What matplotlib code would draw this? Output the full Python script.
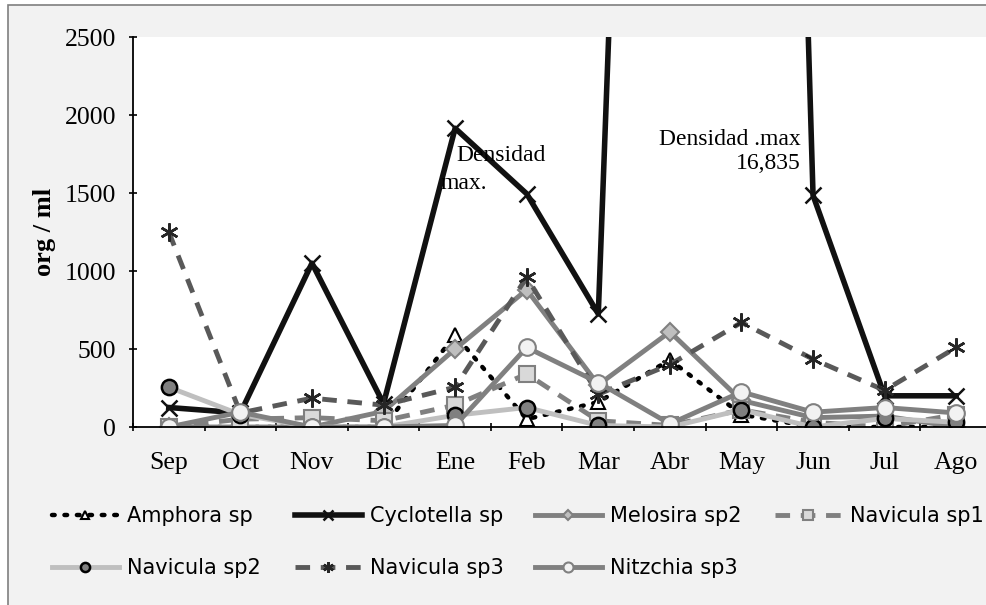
import numpy as np
import matplotlib
matplotlib.use("Agg")
import matplotlib.pyplot as plt
from matplotlib.patches import Rectangle

# meses y densidades (org / ml)
meses = ["Sep", "Oct", "Nov", "Dic", "Ene", "Feb", "Mar", "Abr", "May", "Jun", "Jul", "Ago"]

amphora = [0, 0, 0, 0, 590, 50, 160, 430, 80, 0, 0, 0]
cyclotella = [125, 90, 1050, 150, 1915, 1495, 725, 13000, 16835, 1485, 200, 200]
melosira = [0, 0, 0, 100, 500, 880, 270, 610, 170, 60, 70, 0]
navicula1 = [0, 50, 60, 40, 140, 340, 40, 10, 110, 30, 0, 80]
navicula2 = [255, 80, 0, 0, 75, 125, 10, 0, 110, 0, 55, 30]
navicula3 = [1250, 90, 185, 140, 255, 960, 210, 400, 670, 435, 235, 510]
nitzchia = [0, 95, 0, 0, 10, 510, 285, 20, 225, 95, 125, 90]

W, H = 987, 605
fig = plt.figure(figsize=(W / 100, H / 100), dpi=100, facecolor="white")
fig.patches.append(Rectangle((8 / W, -0.1), 1.1, 1 - 5 / H + 0.1, transform=fig.transFigure,
                             facecolor="#f2f2f2", edgecolor="#7f7f7f", lw=1.2, zorder=-10))

ax = fig.add_axes([133 / W, 1 - 427 / H, (992 - 133) / W, (427 - 37) / H])
ax.set_facecolor("white")

x = np.arange(len(meses))
l_amp, = ax.plot(x, amphora, color="black", ls=(0, (0.6, 2.2)), dash_capstyle="round", lw=3.2,
                 marker="^", ms=10, mfc="white", mec="black", mew=1.5, label="Amphora sp")
l_cyc, = ax.plot(x, cyclotella, color="#111111", lw=4, marker="x", ms=11, mew=1.8, mec="#111111",
                 label="Cyclotella sp")
l_mel, = ax.plot(x, melosira, color="#808080", lw=3.5, marker="D", ms=9, mfc="#bfbfbf",
                 mec="#808080", mew=1.5, label="Melosira sp2")
l_n1, = ax.plot(x, navicula1, color="#808080", lw=3.5, ls=(0, (3, 2.2)), marker="s", ms=11,
                mfc="#d9d9d9", mec="#808080", mew=1.5, label="Navicula sp1")
l_n2, = ax.plot(x, navicula2, color="#bfbfbf", lw=3.5, marker="o", ms=11, mfc="#808080",
                mec="black", mew=1.8, label="Navicula sp2")
l_n3, = ax.plot(x, navicula3, color="#595959", lw=3.5, ls=(0, (3, 2.2)), marker=(6, 2, 0), ms=13,
                mec="#262626", mew=1.8, label="Navicula sp3")
l_nit, = ax.plot(x, nitzchia, color="#808080", lw=3.5, marker="o", ms=12, mfc="#f2f2f2",
                 mec="#808080", mew=1.5, label="Nitzchia sp3")

ax.set_xlim(-0.5, len(meses) - 0.5)
ax.set_ylim(0, 2500)
ax.set_yticks(np.arange(0, 2501, 500))
ax.set_xticks(x)
ax.set_xticklabels(meses)
ax.set_xticks(np.arange(-0.5, len(meses), 1), minor=True)
ax.tick_params(axis="x", which="major", length=0, pad=18)
ax.tick_params(axis="x", which="minor", length=6, width=1.2, direction="inout")
ax.tick_params(axis="y", length=6, width=1.2, direction="inout", pad=9)
for lab in ax.get_xticklabels() + ax.get_yticklabels():
    lab.set_fontfamily("Liberation Serif")
    lab.set_fontsize(18.5)
for s in ["top", "right"]:
    ax.spines[s].set_visible(False)
for s in ["left", "bottom"]:
    ax.spines[s].set_linewidth(1.3)
ax.set_ylabel("org / ml", fontfamily="Liberation Serif", fontsize=19, fontweight="bold",
              labelpad=6)

ax.text(4.02, 1740, "Densidad", fontfamily="Liberation Serif", fontsize=17, ha="left", va="center")
ax.text(3.8, 1560, "max.", fontfamily="Liberation Serif", fontsize=17, ha="left", va="center")
ax.text(8.83, 1765, "Densidad .max\n16,835", fontfamily="Liberation Serif", fontsize=17,
        ha="right", va="center", multialignment="right", linespacing=1.15)

# leyenda: una columna por posicion, como en el original
cols = [([l_amp, l_n2], 52), ([l_cyc, l_n3], 295), ([l_mel, l_nit], 535), ([l_n1], 775)]
for hs, px in cols:
    fig.legend(handles=hs, loc="upper left", bbox_to_anchor=(px / W, 1 - 506 / H),
               frameon=False, prop={"family": "DejaVu Sans", "size": 15}, handlelength=3.2,
               handletextpad=0.4, labelspacing=1.55, markerscale=0.6, borderpad=0,
               borderaxespad=0)

fig.savefig("out.png", dpi=100, facecolor=fig.get_facecolor())
